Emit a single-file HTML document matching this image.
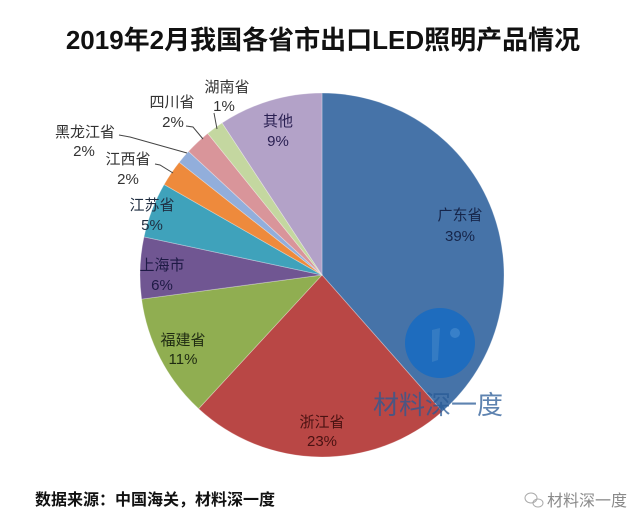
<!DOCTYPE html>
<html><head><meta charset="utf-8"><style>
html,body{margin:0;padding:0;background:#fff;}
body{width:640px;height:528px;overflow:hidden;position:relative;}
svg{position:absolute;left:0;top:0;}
</style></head><body>
<svg width="640" height="528" viewBox="0 0 640 528" xmlns="http://www.w3.org/2000/svg" font-family="'Liberation Sans','Noto Sans CJK SC',sans-serif">
<rect width="640" height="528" fill="#fff"/>
<text x="323" y="49" text-anchor="middle" font-size="26" font-weight="bold" fill="#111">2019年2月我国各省市出口LED照明产品情况</text>
<g stroke="rgba(255,255,255,0.35)" stroke-width="0.8">
<path d="M322,275 L322,93 A182,182 0 0 1 442.4,411.5 Z" fill="#4673a8"/>
<path d="M322,275 L442.4,411.5 A182,182 0 0 1 198.6,408.7 Z" fill="#b94745"/>
<path d="M322,275 L198.6,408.7 A182,182 0 0 1 141.6,299.1 Z" fill="#90ae51"/>
<path d="M322,275 L141.6,299.1 A182,182 0 0 1 144.0,236.9 Z" fill="#705692"/>
<path d="M322,275 L144.0,236.9 A182,182 0 0 1 164.1,184.5 Z" fill="#3fa2bb"/>
<path d="M322,275 L164.1,184.5 A182,182 0 0 1 179.2,162.2 Z" fill="#ee8a3c"/>
<path d="M322,275 L179.2,162.2 A182,182 0 0 1 188.5,151.4 Z" fill="#92aedb"/>
<path d="M322,275 L188.5,151.4 A182,182 0 0 1 207.7,133.4 Z" fill="#d9959a"/>
<path d="M322,275 L207.7,133.4 A182,182 0 0 1 222.1,122.9 Z" fill="#c4d7a0"/>
<path d="M322,275 L222.1,122.9 A182,182 0 0 1 322,93 Z" fill="#b3a2c8"/>
</g>
<g stroke="#444" stroke-width="1" fill="none">
<polyline points="186,126 193,127 203,139"/>
<polyline points="119,135 130,137 187,153"/>
<polyline points="155,164 160,165 173,173"/>
<polyline points="214,113 217,129"/>
</g>
<circle cx="440" cy="343" r="35" fill="#1a6cc0" opacity="0.9"/>
<path d="M432,330 L440,328 L438,360 L432,362 Z" fill="#3a7fc4" opacity="0.8"/>
<circle cx="455" cy="333" r="5" fill="#3f86cc" opacity="0.8"/>
<text x="373" y="414" font-size="26" fill="rgba(40,90,150,0.75)">材料深一度</text>
<g font-size="15" text-anchor="middle">
<text x="227" y="92" fill="#333">湖南省</text>
<text x="224" y="111" fill="#333">1%</text>
<text x="172" y="107" fill="#333">四川省</text>
<text x="173" y="127" fill="#333">2%</text>
<text x="85" y="137" fill="#333">黑龙江省</text>
<text x="84" y="156" fill="#333">2%</text>
<text x="128" y="164" fill="#333">江西省</text>
<text x="128" y="184" fill="#333">2%</text>
<text x="152" y="210" fill="#1f2d40">江苏省</text>
<text x="152" y="230" fill="#1f2d40">5%</text>
<text x="162" y="270" fill="#1e1a45">上海市</text>
<text x="162" y="290" fill="#1e1a45">6%</text>
<text x="183" y="345" fill="#1f2b12">福建省</text>
<text x="183" y="364" fill="#1f2b12">11%</text>
<text x="322" y="427" fill="#4a1212">浙江省</text>
<text x="322" y="446" fill="#4a1212">23%</text>
<text x="460" y="220" fill="#16254a">广东省</text>
<text x="460" y="241" fill="#16254a">39%</text>
<text x="278" y="126" fill="#2a2052">其他</text>
<text x="278" y="146" fill="#2a2052">9%</text>
</g>
<text x="35" y="505" font-size="16" font-weight="bold" fill="#111">数据来源：中国海关，材料深一度</text>
<g fill="none" stroke="#aaa" stroke-width="1">
<ellipse cx="531" cy="498" rx="6" ry="5"/>
<ellipse cx="538" cy="503" rx="5" ry="4"/>
</g>
<text x="547" y="506" font-size="16" fill="#8a8a8a">材料深一度</text>
</svg>
</body></html>
